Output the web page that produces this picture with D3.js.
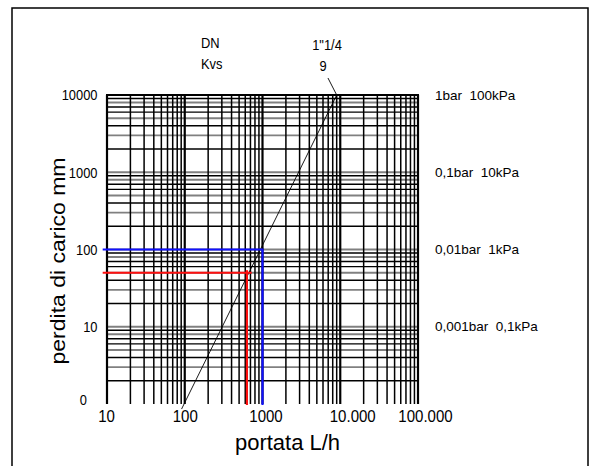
<!DOCTYPE html>
<html>
<head>
<meta charset="utf-8">
<script src="https://cdn.jsdelivr.net/npm/d3@7"></script>
<style>
  html, body { margin: 0; padding: 0; background: #fff; }
  svg { display: block; font-family: "Liberation Sans", Arial, sans-serif; }
</style>
</head>
<body>
<svg id="chart" width="593" height="466"></svg>
<script>
const xTicks = [10, 100, 1000, 10000, 100000];
const xTickLabels = ["10", "100", "1000", "10.000", "100.000"];
const yTicks = [1, 10, 100, 1000, 10000];
const yTickLabels = ["0", "10", "100", "1000", "10000"];
const pressureTicks = [10000, 1000, 100, 10];
const pressureLabels = ["1bar  100kPa", "0,1bar  10kPa", "0,01bar  1kPa", "0,001bar  0,1kPa"];
const gridMult = [1, 2, 3, 4, 5, 6, 7, 8, 9];
const grayRows = [1, 3, 5, 8];           // righe orizzontali grigie
const kvsCurve = [[91, 0.86], [9000, 10000]];   // DN 1"1/4, Kvs 9
const leader = [[9000, 10000], [6950, 16600]];
const bluePath = [[8.8, 100], [1000, 100], [1000, 0.97]];
const redH = [[8.8, 50], [725, 50]];
const redV = [[630, 54], [630, 0.97]];

const svg = d3.select('#chart');
const margin = { top: 95, left: 107, right: 175, bottom: 62 };
const width = 593, height = 466;
const squeeze = 0.86;   // testo un po' stretto come nell'originale

const x = d3.scaleLog().domain([10, 100000]).range([margin.left, width - margin.right]);
const y = d3.scaleLog().domain([1, 10000]).range([height - margin.bottom, margin.top]);

// cornice esterna
svg.append('path')
  .attr('d', `M12,470V8H588V470`)
  .attr('fill', 'none')
  .attr('stroke', '#000')
  .attr('stroke-width', 1.5);

const line = d3.line().x(d => x(d[0])).y(d => y(d[1]));

// valori della griglia
const vGrid = [];
[10, 100, 1000, 10000].forEach(n => gridMult.forEach(k => vGrid.push({ v: k * n, k })));
vGrid.push({ v: 100000, k: 1 });
const hGrid = [];
[1, 10, 100, 1000].forEach(n => gridMult.forEach(k => hGrid.push({ v: k * n, k })));
const hRows = hGrid.filter(d => d.v > 1);

const g = svg.append('g');

g.selectAll('line.hgray')
  .data(hRows.filter(d => grayRows.includes(d.k)))
  .enter().append('line')
  .attr('class', 'hgray')
  .attr('x1', x(10)).attr('x2', x(100000))
  .attr('y1', d => y(d.v)).attr('y2', d => y(d.v))
  .attr('stroke', '#808080')
  .attr('stroke-width', 1.9);

g.selectAll('line.v')
  .data(vGrid)
  .enter().append('line')
  .attr('class', 'v')
  .attr('x1', d => x(d.v)).attr('x2', d => x(d.v))
  .attr('y1', y(1)).attr('y2', y(10000))
  .attr('stroke', '#000')
  .attr('stroke-width', d => d.k === 1 ? 2.2 : 1.5);

g.selectAll('line.hblack')
  .data(hRows.filter(d => !grayRows.includes(d.k)))
  .enter().append('line')
  .attr('class', 'hblack')
  .attr('x1', x(10)).attr('x2', x(100000))
  .attr('y1', d => y(d.v)).attr('y2', d => y(d.v))
  .attr('stroke', '#000')
  .attr('stroke-width', 1.4);

// bordo superiore a 10000
g.append('line')
  .attr('x1', x(10) - 1).attr('x2', x(100000) + 1)
  .attr('y1', y(10000)).attr('y2', y(10000))
  .attr('stroke', '#000')
  .attr('stroke-width', 2.2);

// curva Kvs
g.append('path')
  .attr('d', line(kvsCurve))
  .attr('fill', 'none')
  .attr('stroke', '#000')
  .attr('stroke-width', 0.9);
g.append('path')
  .attr('d', line(leader))
  .attr('fill', 'none')
  .attr('stroke', '#000')
  .attr('stroke-width', 0.9);

// esempio di lettura
g.append('path')
  .attr('d', line(bluePath))
  .attr('fill', 'none')
  .attr('stroke', '#1010ff')
  .attr('stroke-width', 2.2);
[redH, redV].forEach(p => {
  g.append('path')
    .attr('d', line(p))
    .attr('fill', 'none')
    .attr('stroke', '#ff1010')
    .attr('stroke-width', 2.2);
});

// assi
const yAxis = d3.axisLeft(y)
  .tickValues(yTicks)
  .tickFormat((d, i) => yTickLabels[i])
  .tickSize(0)
  .tickPadding(9);
const yG = svg.append('g')
  .attr('transform', `translate(${margin.left},0)`)
  .call(yAxis);
yG.select('.domain').remove();
yG.selectAll('text')
  .attr('font-size', 15)
  .attr('fill', '#000')
  .attr('font-family', null)
  .attr('x', -9.5 / squeeze)
  .attr('transform', `scale(${squeeze},1)`);
yG.selectAll('.tick').filter(d => d === 1).select('text')
  .attr('x', -20 / squeeze).attr('dy', '0.0em');

const xLabelNudge = [-1, 0, 3, 12, 7];
const xAxis = d3.axisBottom(x)
  .tickValues(xTicks)
  .tickFormat((d, i) => xTickLabels[i])
  .tickSize(0)
  .tickPadding(7);
const xG = svg.append('g')
  .attr('transform', `translate(0,${height - margin.bottom})`)
  .call(xAxis);
xG.select('.domain').remove();
xG.selectAll('text')
  .attr('font-size', 16)
  .attr('fill', '#000')
  .attr('font-family', null)
  .attr('dx', (d, i) => xLabelNudge[i] / 0.94)
  .attr('transform', 'scale(0.94,1)');

// etichette di pressione a destra
svg.append('g').selectAll('text')
  .data(pressureTicks)
  .enter().append('text')
  .attr('x', 435)
  .attr('y', d => y(d))
  .attr('dy', '0.35em')
  .attr('font-size', 13.5)
  .attr('xml:space', 'preserve')
  .text((d, i) => pressureLabels[i]);

// titoli degli assi
svg.append('text')
  .attr('transform', `translate(58,261) rotate(-90) scale(1,0.85)`)
  .attr('text-anchor', 'middle')
  .attr('dy', '0.35em')
  .attr('font-size', 23)
  .text('perdita di carico mm');
svg.append('text')
  .attr('x', 287.5)
  .attr('y', 450)
  .attr('text-anchor', 'middle')
  .attr('font-size', 22)
  .text('portata L/h');

// intestazione DN / Kvs
const head = [
  { t: 'DN', x: 201, y: 48, a: 'start' },
  { t: 'Kvs', x: 201, y: 69, a: 'start' },
  { t: '1"1/4', x: 327, y: 50, a: 'middle' },
  { t: '9', x: 323, y: 70.5, a: 'middle' }
];
svg.append('g').selectAll('text')
  .data(head)
  .enter().append('text')
  .attr('transform', d => `translate(${d.x},${d.y}) scale(${squeeze},1)`)
  .attr('text-anchor', d => d.a)
  .attr('font-size', 15)
  .text(d => d.t);
</script>
</body>
</html>
